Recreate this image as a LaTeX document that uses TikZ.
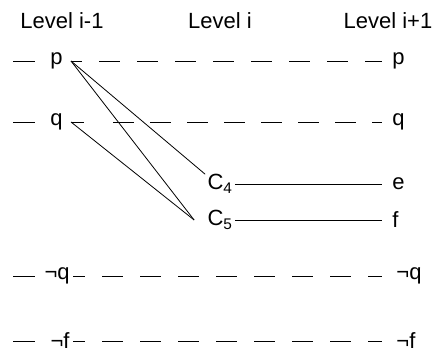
\documentclass[tikz,border=0pt]{standalone}
\usepackage{fontspec}
\setmainfont{Liberation Sans}

\begin{document}
\begin{tikzpicture}[x=1pt, y=-1pt, line width=0.8pt,
    every node/.style={font=\fontsize{22}{26}\selectfont, inner xsep=2pt, inner ysep=0pt},
    lvar/.style={anchor=east, inner xsep=8pt},
    rvar/.style={anchor=west, inner xsep=10pt},
    gap/.style={dash pattern=on 21pt off 17pt}]
    \useasboundingbox (0,0) rectangle (434,354);
    \node (lvA) at (62,21) {Level i-1};
    \node (lvB) at (220,21) {Level i};
    \node (lvC) at (388,21) {Level i+1};
    \node[lvar] (pL) at (71,61) {p};
    \node[lvar] (qL) at (71,122) {q};
    \node[lvar, inner xsep=3pt] (nqL) at (73,276) {¬q};
    \node[lvar, inner xsep=3pt] (nfL) at (73,341) {¬f};
    \node (C4) at (220,184) {C\textsubscript{4}};
    \node (C5) at (220,220) {C\textsubscript{5}};
    \node[rvar] (pR) at (382,61) {p};
    \node[rvar] (qR) at (382,122) {q};
    \node[rvar] (eR) at (382,184) {e};
    \node[rvar] (fR) at (382,220) {f};
    \node[rvar, inner xsep=14pt] (nqR) at (382,276) {¬q};
    \node[rvar, inner xsep=14pt] (nfR) at (382,341) {¬f};
    \coordinate (qS) at (113,122);
    \coordinate (C5in) at ([xshift=-11pt]C5.west);
    \foreach \y in {61,122,276,341}
      \draw (13,\y) -- (35,\y);
    \draw[gap, dash phase=10pt] (pL) -- (pR);
    \draw (qL.east) -- ++(13,0);
    \draw[dash pattern=on 21pt off 16pt] (qS) -- (qR);
    \draw[gap, dash phase=9pt] (nqL) -- (nqR);
    \draw[gap, dash phase=9pt] (nfL) -- (nfR);
    \draw (C4) -- (eR);
    \draw (C5) -- (fR);
    \draw (pL.east) -- (C4.north west);
    \draw (pL.east) -- (C5in);
    \draw (qL.east) -- (C5in);
\end{tikzpicture}
\end{document}
